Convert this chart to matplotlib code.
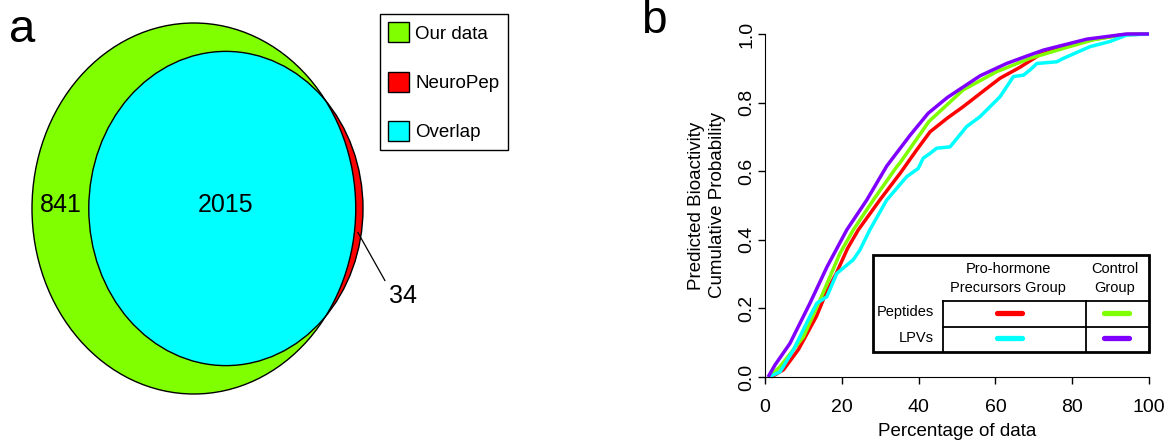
import numpy as np
import matplotlib
matplotlib.use("Agg")
import matplotlib.pyplot as plt
from matplotlib.patches import Circle, Patch, Rectangle

plt.rcParams['font.family'] = ['Liberation Sans', 'DejaVu Sans']

# panel a: Venn counts
our_only = 841
overlap = 2015
neuro_only = 34
venn_labels = ["Our data", "NeuroPep", "Overlap"]
venn_colors = ["#7FFF00", "#FF0000", "#00FFFF"]

# panel b: cumulative curves (percentage of data, cumulative probability)
pep_pro_x = [1.7, 4.8, 8.7, 13.4, 16.1, 18.6, 21.5, 24.3, 29.9, 35.2, 39.5, 43.0,
             47.5, 51.6, 57.7, 61.2, 66.4, 71.6, 78.5, 85.4, 93.2, 100]
pep_pro_y = [0.0, 0.021, 0.08, 0.177, 0.25, 0.303, 0.375, 0.429, 0.516, 0.594, 0.662, 0.715,
             0.755, 0.788, 0.841, 0.871, 0.903, 0.940, 0.965, 0.984, 0.998, 1.0]

pep_ctl_x = [1.0, 3.9, 10.0, 14.3, 19.5, 23.0, 28.2, 34.3, 35.2, 42.7, 51.6, 60.3,
             69.0, 76.8, 85.4, 93.2, 100]
pep_ctl_y = [0.0, 0.03, 0.117, 0.224, 0.36, 0.429, 0.516, 0.613, 0.625, 0.745, 0.837, 0.89,
             0.929, 0.955, 0.983, 0.998, 1.0]

lpv_pro_x = [1.0, 3.9, 7.4, 11.7, 13.5, 16.1, 18.7, 23.0, 24.7, 27.3, 31.7, 36.9, 39.9,
             41.2, 43.0, 44.7, 48.2, 52.5, 56.0, 61.2, 64.7, 67.3, 69.0, 70.8, 76.0,
             77.7, 84.6, 89.8, 94.2, 100]
lpv_pro_y = [0.0, 0.015, 0.079, 0.177, 0.215, 0.234, 0.302, 0.342, 0.37, 0.429, 0.516, 0.584,
             0.608, 0.638, 0.652, 0.667, 0.671, 0.73, 0.759, 0.817, 0.876, 0.88, 0.895,
             0.914, 0.919, 0.929, 0.963, 0.978, 0.997, 1.0]

lpv_ctl_x = [0.8, 2.6, 6.5, 11.7, 16.1, 21.3, 26.5, 31.7, 37.8, 42.5, 47.5, 56.0, 62.9,
             69.0, 72.5, 83.8, 94.2, 100]
lpv_ctl_y = [0.0, 0.035, 0.098, 0.215, 0.32, 0.429, 0.516, 0.615, 0.705, 0.769, 0.815, 0.878,
             0.914, 0.939, 0.953, 0.985, 1.0, 1.0]

x_ticks = [0, 20, 40, 60, 80, 100]
y_ticks = [0.0, 0.2, 0.4, 0.6, 0.8, 1.0]


def lens_area(d, R, r):
    a1 = r**2 * np.arccos((d**2 + r**2 - R**2) / (2 * d * r))
    a2 = R**2 * np.arccos((d**2 + R**2 - r**2) / (2 * d * R))
    a3 = 0.5 * np.sqrt((-d + r + R) * (d + r - R) * (d - r + R) * (d + r + R))
    return a1 + a2 - a3


rA = np.sqrt((our_only + overlap) / np.pi)
rB = np.sqrt((overlap + neuro_only) / np.pi)
lo, hi = rA - rB + 1e-9, rA + rB - 1e-9
for _ in range(100):
    mid = (lo + hi) / 2
    if lens_area(mid, rA, rB) > overlap:
        lo = mid
    else:
        hi = mid
d = (lo + hi) / 2

fig = plt.figure(figsize=(11.73, 4.46), dpi=100)
W, H = 1173, 446

# ---- panel a ----
ax_a = fig.add_axes([0, 0, 520 / W, 1])
sx = (363 - 32) / (rA + d + rB)
sy = (394 - 23) / (2 * rA)
x0 = -rA - 32 / sx
ytop = rA + 23 / sy
ax_a.set_xlim(x0, x0 + 520 / sx)
ax_a.set_ylim(ytop - H / sy, ytop)
ax_a.axis('off')

circ_a = Circle((0, 0), rA, fc=venn_colors[0], ec='none', zorder=1)
circ_b = Circle((d, 0), rB, fc=venn_colors[1], ec='none', zorder=2)
ax_a.add_patch(circ_a)
ax_a.add_patch(circ_b)
inter = Circle((d, 0), rB, fc=venn_colors[2], ec='none', zorder=3)
ax_a.add_patch(inter)
inter.set_clip_path(circ_a)
ax_a.add_patch(Circle((0, 0), rA, fill=False, ec='black', lw=1, zorder=4))
ax_a.add_patch(Circle((d, 0), rB, fill=False, ec='black', lw=1, zorder=4))

ax_a.text((-rA + d - rB) / 2, 0.6, str(our_only), ha='center', va='center', fontsize=18)
ax_a.text(d, 0.6, str(overlap), ha='center', va='center', fontsize=18)

ys = -3.9
xs = (np.sqrt(rA**2 - ys**2) + d + np.sqrt(rB**2 - ys**2)) / 2
ax_a.plot([xs, xs + 27 / sx], [ys, ys - 48 / sy], color='black', lw=0.9, zorder=5)
ax_a.text(xs + 45 / sx, ys - 64 / sy, str(neuro_only), ha='center', va='center', fontsize=18)

handles = [Patch(fc=c, ec='black', lw=1) for c in venn_colors]
leg = ax_a.legend(handles, venn_labels, loc='upper left',
                  bbox_to_anchor=(380 / W, 1 - 14 / H), bbox_transform=fig.transFigure,
                  borderaxespad=0, fontsize=13.5, handlelength=1.07, handleheight=1.25,
                  labelspacing=1.55, borderpad=0.45, handletextpad=0.37,
                  fancybox=False, edgecolor='black', framealpha=1)
leg.get_frame().set_linewidth(1)

fig.text(9 / W, 1 - 42 / H, 'a', fontsize=34, va='baseline', ha='left')
fig.text(641 / W, 1 - 33 / H, 'b', fontsize=33, va='baseline', ha='left')

# ---- panel b ----
ax_b = fig.add_axes([765 / W, 1 - 377 / H, 384 / W, 343 / H])
series = [
    (pep_pro_x, pep_pro_y, '#FF0000'),
    (pep_ctl_x, pep_ctl_y, '#7FFF00'),
    (lpv_pro_x, lpv_pro_y, '#00FFFF'),
    (lpv_ctl_x, lpv_ctl_y, '#7F00FF'),
]
for xv, yv, c in series:
    ax_b.plot(xv, yv, color=c, lw=2.5, clip_on=False, solid_capstyle='butt')

ax_b.set_xlim(0, 100)
ax_b.set_ylim(0, 1)
ax_b.set_xticks(x_ticks)
ax_b.set_yticks(y_ticks)
ax_b.set_yticklabels([f"{v:.1f}" for v in y_ticks])
for lab in ax_b.get_yticklabels():
    lab.set_rotation(90)
    lab.set_va('center')
ax_b.tick_params(direction='out', length=5, width=1, labelsize=14)
ax_b.tick_params(axis='x', pad=11)
ax_b.tick_params(axis='y', pad=2)
ax_b.spines['top'].set_visible(False)
ax_b.spines['right'].set_visible(False)
ax_b.set_xlabel('Percentage of data', fontsize=13.5, labelpad=5)
ax_b.set_ylabel('Predicted Bioactivity\nCumulative Probability', fontsize=13.5,
                linespacing=1.3)
ax_b.yaxis.set_label_coords(-0.102, 0.5)

# table legend inside panel b
T = ax_b.transAxes
ax_b.add_patch(Rectangle((0.2805, 0.0738), 1.0 - 0.2805, 0.3557 - 0.0738, transform=T,
                         fc='white', ec='black', lw=2, clip_on=False, zorder=5))
for xl in [0.4628, 0.8352]:
    ax_b.plot([xl, xl], [0.0738, 0.2224], transform=T, color='black', lw=1.3,
              clip_on=False, zorder=6)
for yl in [0.2224, 0.1466]:
    ax_b.plot([0.4628, 1.0], [yl, yl], transform=T, color='black', lw=1.3,
              clip_on=False, zorder=6)
ax_b.text(0.6328, 0.3149, 'Pro-hormone', transform=T, ha='center', va='center', fontsize=10.5, zorder=7)
ax_b.text(0.6328, 0.2595, 'Precursors Group', transform=T, ha='center', va='center', fontsize=10.5, zorder=7)
ax_b.text(0.9115, 0.3149, 'Control', transform=T, ha='center', va='center', fontsize=10.5, zorder=7)
ax_b.text(0.9115, 0.2595, 'Group', transform=T, ha='center', va='center', fontsize=10.5, zorder=7)
ax_b.text(0.4401, 0.1885, 'Peptides', transform=T, ha='right', va='center', fontsize=10.5, zorder=7)
ax_b.text(0.4401, 0.1125, 'LPVs', transform=T, ha='right', va='center', fontsize=10.5, zorder=7)
seg_pos = [(0.6034, 0.6685, 0.1857), (0.8828, 0.9479, 0.1857),
           (0.6034, 0.6685, 0.1128), (0.8828, 0.9479, 0.1128)]
for (xa, xb, yy), (_, _, c) in zip(seg_pos, series):
    ax_b.plot([xa, xb], [yy, yy], transform=T, color=c, lw=3.8,
              solid_capstyle='round', clip_on=False, zorder=7)

fig.savefig('out.png', dpi=100)
